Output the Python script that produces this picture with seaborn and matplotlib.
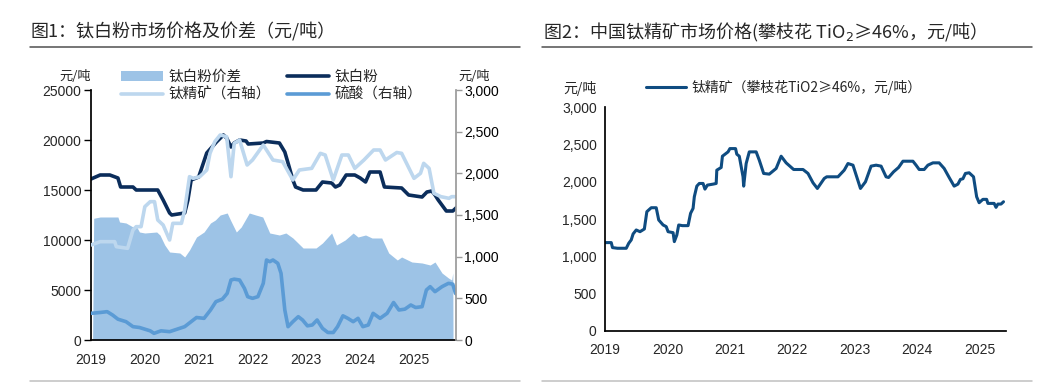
import matplotlib
matplotlib.use('Agg')
import matplotlib.pyplot as plt
import seaborn as sns
import pandas as pd
from matplotlib.patches import Patch
from matplotlib.lines import Line2D

# ---- 图1 data (x = decimal year) ----
tio2_x = [2019.0, 2019.17, 2019.35, 2019.5, 2019.55, 2019.78, 2019.84, 2020.24, 2020.34, 2020.46, 2020.5,
          2020.74, 2020.8, 2020.86, 2021.0, 2021.15, 2021.33, 2021.46, 2021.52, 2021.6, 2021.66, 2021.76,
          2021.88, 2021.92, 2022.2, 2022.26, 2022.5, 2022.6, 2022.66, 2022.75, 2022.8, 2022.94, 2023.18,
          2023.3, 2023.47, 2023.54, 2023.62, 2023.74, 2023.9, 2024.0, 2024.1, 2024.18, 2024.37, 2024.45,
          2024.77, 2024.9, 2025.15, 2025.24, 2025.33, 2025.39, 2025.45, 2025.6, 2025.72, 2025.8]
tio2_y = [16100, 16500, 16500, 16200, 15300, 15300, 15000, 15000, 14000, 12700, 12500,
          12700, 14000, 16000, 16300, 18700, 19800, 20500, 20200, 19300, 19700, 20000,
          19900, 19600, 19700, 19850, 19700, 18800, 17700, 16000, 15300, 15000, 15000,
          15800, 15700, 15300, 15500, 16500, 16500, 16200, 15800, 16800, 16800, 15300,
          15200, 14500, 14300, 14800, 14900, 14500, 14000, 12900, 12900, 13300]

spread_x = [2019.03, 2019.05, 2019.17, 2019.5, 2019.53, 2019.65, 2019.78, 2019.84, 2019.9, 2020.0, 2020.22,
            2020.28, 2020.37, 2020.46, 2020.65, 2020.74, 2020.83, 2020.96, 2021.1, 2021.22, 2021.31,
            2021.4, 2021.53, 2021.59, 2021.7, 2021.79, 2021.94, 2022.06, 2022.19, 2022.32, 2022.5,
            2022.62, 2022.75, 2022.94, 2023.18, 2023.3, 2023.47, 2023.56, 2023.72, 2023.87, 2023.96,
            2024.1, 2024.22, 2024.4, 2024.53, 2024.69, 2024.77, 2024.96, 2025.15, 2025.3, 2025.39,
            2025.52, 2025.64, 2025.7, 2025.72, 2025.725]
spread_y = [0, 12170, 12300, 12300, 11800, 11700, 11300, 11400, 10800, 10700, 10800,
            10500, 9500, 8800, 8700, 8300, 9000, 10300, 10800, 11700, 12000,
            12500, 12700, 12000, 10800, 11300, 12700, 12500, 12300, 10700, 10500,
            10700, 10200, 9200, 9200, 9700, 10700, 9500, 10000, 10700, 10300,
            10500, 10200, 10200, 8700, 8000, 8300, 7800, 7700, 7500, 7800,
            6700, 6200, 6000, 6700, 0]

ore_x = [2019.0, 2019.17, 2019.44, 2019.47, 2019.68, 2019.78, 2019.84, 2019.93, 2020.0, 2020.1, 2020.18,
         2020.24, 2020.34, 2020.46, 2020.52, 2020.68, 2020.74, 2020.83, 2020.9, 2021.02, 2021.15, 2021.21,
         2021.3, 2021.4, 2021.52, 2021.6, 2021.66, 2021.76, 2021.9, 2022.0, 2022.2, 2022.38, 2022.56,
         2022.75, 2022.87, 2023.1, 2023.26, 2023.35, 2023.5, 2023.66, 2023.78, 2023.9, 2024.07, 2024.25,
         2024.37, 2024.47, 2024.68, 2024.77, 2025.0, 2025.12, 2025.18, 2025.28, 2025.37, 2025.5, 2025.65,
         2025.7, 2025.77]
ore_y = [1140, 1180, 1180, 1120, 1100, 1320, 1360, 1360, 1600, 1660, 1660,
         1440, 1380, 1200, 1400, 1400, 1560, 1960, 1940, 1960, 2040, 2240,
         2380, 2460, 2440, 1960, 2360, 2400, 2100, 2160, 2340, 2160, 2140,
         1920, 2040, 2060, 2240, 2220, 1920, 2220, 2220, 2060, 2160, 2280,
         2280, 2160, 2250, 2240, 1940, 2000, 2120, 2060, 1760, 1720, 1700,
         1720, 1720]

acid_x = [2019.0, 2019.17, 2019.3, 2019.4, 2019.5, 2019.65, 2019.78, 2019.9, 2020.0, 2020.1, 2020.17,
          2020.3, 2020.46, 2020.6, 2020.74, 2020.86, 2020.96, 2021.1, 2021.22, 2021.32, 2021.44, 2021.53,
          2021.6, 2021.66, 2021.76, 2021.85, 2021.91, 2022.0, 2022.1, 2022.2, 2022.26, 2022.32, 2022.38,
          2022.47, 2022.53, 2022.6, 2022.66, 2022.75, 2022.85, 2022.93, 2023.02, 2023.11, 2023.2, 2023.3,
          2023.4, 2023.5, 2023.58, 2023.68, 2023.77, 2023.87, 2023.96, 2024.05, 2024.15, 2024.24, 2024.37,
          2024.5, 2024.62, 2024.72, 2024.83, 2024.94, 2025.03, 2025.15, 2025.23, 2025.3, 2025.39, 2025.52,
          2025.64, 2025.72, 2025.77, 2025.81]
acid_y = [320, 330, 340, 300, 250, 220, 160, 150, 130, 110, 80,
          110, 100, 130, 160, 220, 270, 260, 360, 460, 490, 560,
          720, 730, 720, 620, 520, 500, 520, 680, 960, 940, 960,
          920, 800, 360, 160, 220, 280, 240, 170, 180, 240, 140,
          90, 90, 160, 290, 260, 220, 260, 160, 180, 320, 260,
          320, 450, 360, 370, 420, 390, 400, 600, 640, 580, 640,
          680, 670, 560, 540]

# ---- 图2 data ----
ore2_x = [2019.0, 2019.1, 2019.12, 2019.2, 2019.34, 2019.38, 2019.42, 2019.45, 2019.5, 2019.56, 2019.63,
          2019.67, 2019.74, 2019.82, 2019.86, 2019.93, 2019.98, 2020.01, 2020.09, 2020.11, 2020.15, 2020.18,
          2020.24, 2020.33, 2020.37, 2020.41, 2020.43, 2020.47, 2020.51, 2020.57, 2020.6, 2020.64, 2020.73,
          2020.78, 2020.79, 2020.86, 2020.88, 2020.97, 2021.0, 2021.09, 2021.11, 2021.15, 2021.21, 2021.22,
          2021.26, 2021.31, 2021.42, 2021.47, 2021.54, 2021.63, 2021.74, 2021.82, 2021.9, 2022.02, 2022.17,
          2022.25, 2022.33, 2022.4, 2022.51, 2022.55, 2022.73, 2022.83, 2022.89, 2022.97, 2023.03, 2023.09,
          2023.17, 2023.26, 2023.34, 2023.42, 2023.5, 2023.54, 2023.62, 2023.7, 2023.77, 2023.93, 2023.98,
          2024.03, 2024.11, 2024.17, 2024.25, 2024.35, 2024.43, 2024.51, 2024.59, 2024.65, 2024.69, 2024.73,
          2024.77, 2024.83, 2024.9, 2024.95, 2024.99, 2025.05, 2025.11, 2025.13, 2025.23, 2025.26, 2025.29,
          2025.34, 2025.38]
ore2_y = [1184, 1184, 1117, 1108, 1108, 1175, 1220, 1300, 1353, 1330, 1366,
          1598, 1651, 1651, 1487, 1420, 1398, 1330, 1317, 1197, 1286, 1420,
          1411, 1411, 1576, 1642, 1798, 1940, 1976, 1976, 1900, 1954, 1967,
          1976, 2154, 2190, 2341, 2399, 2443, 2443, 2368, 2341, 2065, 1940,
          2243, 2399, 2399, 2288, 2110, 2101, 2177, 2341, 2252, 2163, 2163,
          2110, 1985, 1909, 2043, 2065, 2065, 2154, 2243, 2221, 2065, 1909,
          1998, 2208, 2221, 2208, 2065, 2056, 2132, 2190, 2274, 2274, 2221,
          2163, 2163, 2221, 2252, 2252, 2177, 2056, 1940, 1967, 2030, 2039,
          2110, 2119, 2065, 1798, 1718, 1763, 1763, 1709, 1709, 1656, 1700,
          1700, 1731]

years = [2019, 2020, 2021, 2022, 2023, 2024, 2025]

c_spread = '#9DC3E6'
c_tio2 = '#0B2D5B'
c_ore = '#BDD7EE'
c_acid = '#5B9BD5'
c_ore2 = '#0F4C81'

sns.set_theme(style='white')
plt.rcParams['font.family'] = ['Noto Sans CJK SC', 'DejaVu Sans']

fig = plt.figure(figsize=(10.39, 3.91), dpi=100)
W, H = 1039, 391

def fx(px):
    return px / W

def fy(py):
    return 1 - py / H

tick_font = {'family': ['Liberation Sans', 'Noto Sans CJK SC'], 'size': 10}

# ---------- 图1 ----------
ax1 = fig.add_axes([fx(91), fy(340), fx(456) - fx(91), fy(90) - fy(340)])
ax1.fill_between(spread_x, spread_y, 0, color=c_spread, lw=0)
sns.lineplot(x=tio2_x, y=tio2_y, ax=ax1, color=c_tio2, lw=2.6, estimator=None, sort=False)
ax1.set_xlim(2019, 2025.78)
ax1.set_ylim(0, 25000)
ax1.set_yticks(range(0, 25001, 5000))
ax1.set_xticks(years)
ax1.set_xticklabels([str(y) for y in years], fontdict=tick_font)
ax1.set_yticklabels([str(v) for v in range(0, 25001, 5000)], fontdict=tick_font)

# right axis lines sit above the fill
ax1r = ax1.twinx()
ax1r.patch.set_visible(False)
sns.lineplot(x=ore_x, y=ore_y, ax=ax1r, color=c_ore, lw=2.6, estimator=None, sort=False)
sns.lineplot(x=acid_x, y=acid_y, ax=ax1r, color=c_acid, lw=2.6, estimator=None, sort=False)
ax1r.set_ylim(0, 3000)
ax1r.set_yticks(range(0, 3001, 500))
ax1r.set_yticklabels([f'{v:,}' for v in range(0, 3001, 500)], fontdict=tick_font)

for a in (ax1, ax1r):
    a.spines['top'].set_visible(False)
ax1.spines['right'].set_visible(False)
ax1.spines['left'].set_color('black')
ax1.spines['bottom'].set_color('black')
ax1r.spines['left'].set_visible(False)
ax1r.spines['bottom'].set_visible(False)
ax1r.spines['right'].set_color('#9a9a9a')
ax1.tick_params(axis='x', direction='out', length=4, width=1, color='black', pad=5)
ax1.tick_params(axis='y', direction='out', length=5, width=1, color='black', pad=2)
ax1r.tick_params(axis='y', direction='out', length=4, width=1, color='#9a9a9a', pad=2, labelcolor='black')
ax1.set_xlabel('')
ax1.set_ylabel('')
ax1r.set_ylabel('')

fig.text(fx(75), fy(77), '元/吨', fontsize=9.5, ha='center', va='center')
fig.text(fx(474), fy(77), '元/吨', fontsize=9.5, ha='center', va='center')

h1 = [Patch(facecolor=c_spread, edgecolor='none'),
      Line2D([], [], color=c_ore, lw=2.6),
      Line2D([], [], color=c_tio2, lw=2.6),
      Line2D([], [], color=c_acid, lw=2.6)]
l1 = ['钛白粉价差', '钛精矿（右轴）', '钛白粉', '硫酸（右轴）']
fig.legend(h1, l1, ncol=2, loc='upper left', bbox_to_anchor=(fx(121), fy(70)), frameon=False,
           fontsize=10.5, handlelength=2.9, handleheight=0.7, handletextpad=0.35,
           columnspacing=1.1, labelspacing=0.25, borderpad=0, borderaxespad=0)

# ---------- 图2 ----------
ax2 = fig.add_axes([fx(605), fy(331), fx(1006) - fx(605), fy(107) - fy(331)])
sns.lineplot(x=ore2_x, y=ore2_y, ax=ax2, color=c_ore2, lw=2.2, estimator=None, sort=False)
ax2.set_xlim(2019, 2025.42)
ax2.set_ylim(0, 3000)
ax2.set_xticks(years)
ax2.set_xticklabels([str(y) for y in years], fontdict=tick_font)
ax2.set_yticks(range(0, 3001, 500))
ax2.set_yticklabels([f'{v:,}' for v in range(0, 3001, 500)], fontdict=tick_font)
ax2.spines['top'].set_visible(False)
ax2.spines['right'].set_visible(False)
ax2.spines['left'].set_color('black')
ax2.spines['bottom'].set_color('black')
ax2.tick_params(axis='x', direction='out', length=4, width=1, color='black', pad=5)
ax2.tick_params(axis='y', direction='out', length=4, width=1, color='black', pad=2)
ax2.set_xlabel('')
ax2.set_ylabel('')
fig.text(fx(580), fy(88), '元/吨', fontsize=10, ha='center', va='center')
fig.legend([Line2D([], [], color=c_ore2, lw=2.2)], ['钛精矿（攀枝花TiO2≥46%，元/吨）'],
           loc='center left', bbox_to_anchor=(fx(646), fy(87)), frameon=False, fontsize=10,
           handlelength=2.9, handletextpad=0.35, borderpad=0, borderaxespad=0)

# ---------- titles and rules ----------
fig.text(fx(30), fy(32), '图1：钛白粉市场价格及价差（元/吨）', fontsize=13, ha='left', va='center')
fig.text(fx(543), fy(32), '图2：中国钛精矿市场价格(攀枝花 TiO$_2$≥46%，元/吨）', fontsize=13,
         ha='left', va='center')
fig.add_artist(Line2D([fx(30), fx(520)], [fy(47), fy(47)], color='#505050', lw=1.1))
fig.add_artist(Line2D([fx(542), fx(1032)], [fy(47), fy(47)], color='#505050', lw=1.1))
fig.add_artist(Line2D([fx(30), fx(520)], [fy(381), fy(381)], color='#c0c0c0', lw=1.1))
fig.add_artist(Line2D([fx(542), fx(1032)], [fy(381), fy(381)], color='#c0c0c0', lw=1.1))

fig.savefig('out.png', dpi=100, facecolor='white')
